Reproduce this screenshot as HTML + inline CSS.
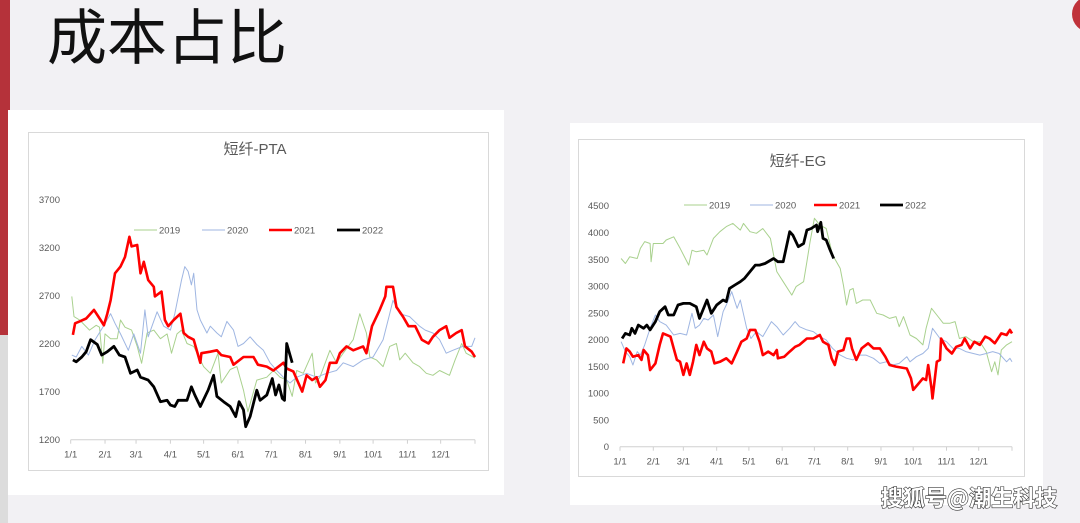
<!DOCTYPE html>
<html><head><meta charset="utf-8"><style>
html,body{margin:0;padding:0;background:#f2f1f4;}
svg{display:block;font-family:"Liberation Sans","Noto Sans CJK SC",sans-serif;}
</style></head><body>
<svg id="root" width="1080" height="523" viewBox="0 0 1080 523" xmlns="http://www.w3.org/2000/svg">
<rect x="0" y="0" width="1080" height="523" fill="#f2f1f4"/>
<rect x="0" y="0" width="10" height="335" fill="#b5323a"/>
<rect x="0" y="335" width="8" height="188" fill="#dcdcdc"/>
<circle cx="1090" cy="14" r="18" fill="#c0323a"/>
<text x="47" y="59" font-size="60" fill="#111" font-family="'Noto Sans CJK SC',sans-serif">成本占比</text>

<rect x="8" y="110" width="496" height="385" fill="#fff"/>
<rect x="28.5" y="132.5" width="460" height="338" fill="none" stroke="#d9d9d9"/>
<rect x="570" y="123" width="473" height="382" fill="#fff"/>
<rect x="578.5" y="139.5" width="446" height="337" fill="none" stroke="#d9d9d9"/>

<g id="pta"></g>
<g id="eg"></g>

<text x="969" y="506" text-anchor="middle" font-size="22" font-weight="bold" fill="#fff" stroke="#333" stroke-width="1.2" paint-order="stroke" font-family="'Noto Sans CJK SC',sans-serif">搜狐号@潮生科技</text>
</svg>
<script>
const monthLabels = ["1/1","2/1","3/1","4/1","5/1","6/1","7/1","8/1","9/1","10/1","11/1","12/1"];
const monthDays = [0,31,59,90,120,151,181,212,243,273,304,334];
const seriesNames = ["2019","2020","2021","2022"];
const ptaTicks = [1200,1700,2200,2700,3200,3700];
const egTicks = [0,500,1000,1500,2000,2500,3000,3500,4000,4500];

const pta2019 = [[1,2690],[3,2480],[8,2445],[17,2340],[23,2390],[26,2370],[29,1995],[31,2300],[36,2250],[42,2250],[45,2445],[49,2370],[55,2340],[60,2170],[64,1995],[69,2310],[75,2340],[81,2250],[87,2300],[91,2100],[96,2300],[100,2340],[105,2200],[111,2170],[120,1960],[126,1890],[133,2100],[136,1790],[144,1930],[150,1960],[156,1715],[160,1490],[168,1820],[177,1850],[183,1920],[189,1850],[195,1820],[200,1650],[204,1920],[210,1890],[218,2100],[221,1790],[225,1850],[234,2130],[240,2000],[246,2100],[255,2240],[261,2510],[267,2310],[270,2060],[276,2030],[282,1960],[288,2170],[294,2200],[297,2030],[302,2100],[309,2000],[315,1960],[321,1890],[327,1870],[333,1920],[342,1870],[347,2030],[353,2200],[357,2100],[365,2050]];
const pta2020 = [[1,2080],[5,2060],[10,2170],[16,2080],[22,2240],[29,2370],[36,2510],[40,2410],[45,2300],[52,2130],[57,2300],[63,2100],[67,2550],[70,2270],[78,2530],[84,2380],[90,2340],[94,2510],[100,2860],[103,3000],[106,2950],[109,2810],[111,2930],[114,2550],[117,2445],[123,2310],[126,2380],[132,2310],[136,2270],[141,2430],[147,2340],[151,2170],[156,2200],[162,2270],[168,2190],[174,2130],[180,2000],[186,1920],[192,1850],[198,1790],[204,1850],[213,1890],[222,1850],[231,1890],[240,1920],[246,2000],[255,1960],[264,2030],[273,2060],[282,2240],[288,2510],[291,2650],[297,2510],[306,2480],[315,2380],[320,2340],[327,2310],[333,2240],[339,2100],[345,2130],[354,2170],[362,2170],[365,2260]];
const pta2021 = [[2,2290],[4,2410],[8,2430],[14,2460],[21,2550],[27,2445],[30,2390],[33,2510],[36,2650],[40,2930],[45,3000],[49,3100],[53,3310],[55,3210],[60,3225],[63,2930],[66,3050],[70,2860],[75,2790],[76,2690],[82,2740],[85,2445],[88,2380],[93,2445],[99,2510],[102,2310],[106,2270],[111,2240],[117,2000],[118,2100],[126,2115],[132,2130],[136,2080],[144,2060],[147,1980],[156,2060],[165,2060],[169,1980],[177,1960],[183,1920],[192,2000],[195,1940],[201,1910],[209,1700],[213,1870],[218,1820],[222,1850],[225,1750],[230,1820],[234,2000],[240,2000],[243,2100],[249,2170],[255,2130],[264,2170],[267,2100],[272,2380],[279,2550],[284,2690],[285,2790],[291,2790],[294,2580],[300,2480],[305,2380],[311,2380],[317,2240],[323,2200],[327,2270],[333,2340],[339,2380],[342,2260],[348,2310],[353,2340],[356,2170],[362,2115],[365,2060]];
const pta2022 = [[2,2030],[5,2010],[10,2060],[14,2115],[18,2240],[24,2190],[28,2080],[33,2115],[39,2170],[44,2080],[49,2060],[54,1890],[60,1925],[63,1850],[70,1820],[75,1750],[81,1595],[87,1610],[90,1560],[94,1545],[97,1610],[105,1610],[109,1750],[112,1665],[117,1545],[124,1715],[129,1870],[132,1650],[138,1595],[144,1545],[149,1440],[152,1595],[156,1510],[158,1335],[162,1440],[168,1715],[171,1610],[177,1665],[182,1835],[185,1665],[188,1770],[191,1630],[193,1610],[195,2200],[200,2000]];

const eg2019 = [[1,3515],[5,3420],[9,3545],[16,3515],[19,3705],[23,3830],[28,3795],[29,3455],[31,3795],[40,3795],[43,3860],[50,3920],[56,3705],[64,3390],[67,3670],[71,3640],[78,3670],[81,3580],[87,3890],[93,4015],[99,4110],[105,4170],[112,4045],[115,4170],[121,4015],[127,3985],[133,4075],[140,3890],[146,3270],[152,3080],[160,2830],[164,2990],[171,3080],[174,3455],[177,3830],[181,4265],[186,4140],[192,4075],[198,3580],[205,3330],[208,3020],[211,2645],[214,2925],[217,2955],[220,2675],[226,2740],[233,2740],[239,2490],[245,2460],[251,2395],[257,2430],[260,2240],[264,2430],[270,2085],[276,2020],[282,1900],[285,2210],[290,2585],[295,2460],[301,2305],[307,2305],[312,2335],[316,2020],[322,2055],[329,1960],[335,1960],[341,1775],[346,1400],[349,1585],[352,1340],[355,1805],[360,1900],[365,1960]];
const eg2020 = [[1,1960],[5,1775],[9,1680],[12,1525],[16,1775],[19,1710],[23,1900],[28,2210],[33,2460],[37,2335],[43,2270],[50,2085],[56,2115],[62,2085],[67,2490],[70,2210],[74,2270],[78,2395],[82,2365],[87,2460],[91,2055],[96,2520],[99,2645],[104,2895],[109,2585],[112,2740],[118,2210],[122,2020],[127,2150],[133,2055],[141,2335],[146,2240],[152,2085],[158,2210],[163,2335],[167,2240],[174,2180],[180,2150],[186,2055],[192,1995],[198,1835],[205,1710],[211,1650],[217,1620],[223,1710],[229,1710],[236,1650],[242,1555],[248,1585],[254,1525],[260,1555],[267,1680],[270,1585],[276,1680],[282,1740],[287,1835],[291,2210],[298,2020],[304,1960],[310,1835],[316,1835],[322,1775],[329,1740],[335,1710],[341,1740],[347,1775],[353,1740],[360,1585],[363,1650],[365,1585]];
const eg2021 = [[3,1555],[6,1835],[9,1775],[12,1680],[17,1710],[20,1620],[22,1805],[26,1710],[28,1430],[33,1555],[37,1900],[40,2115],[47,2055],[50,1835],[53,1620],[56,1585],[59,1340],[62,1555],[65,1340],[68,1585],[71,1900],[74,1710],[78,1960],[81,1835],[85,1775],[88,1555],[93,1585],[99,1650],[104,1555],[109,1775],[113,1960],[118,2020],[121,2180],[126,2180],[130,1960],[133,1710],[138,1775],[143,1710],[146,1805],[147,1650],[153,1680],[158,1775],[163,1865],[167,1900],[174,2020],[180,2020],[186,2085],[189,1960],[194,1900],[197,1650],[200,1525],[203,1775],[208,1805],[211,2020],[214,2020],[216,1835],[220,1620],[225,1835],[231,1930],[236,1835],[242,1835],[247,1680],[251,1525],[257,1495],[267,1460],[271,1275],[273,1060],[278,1180],[282,1275],[285,1245],[287,1525],[290,1090],[291,900],[295,1585],[298,1620],[299,2020],[304,1835],[309,1740],[313,1865],[318,1900],[321,2020],[326,1835],[330,1960],[335,1900],[340,2055],[344,2020],[349,1930],[355,2115],[360,2085],[363,2180],[365,2115]];
const eg2022 = [[2,2020],[5,2115],[9,2085],[11,2210],[14,2115],[17,2270],[22,2210],[25,2270],[28,2180],[33,2335],[37,2520],[42,2615],[45,2460],[50,2460],[54,2645],[59,2675],[65,2675],[71,2615],[74,2395],[81,2740],[85,2490],[90,2645],[96,2740],[99,2710],[102,2955],[107,3020],[112,3080],[116,3145],[121,3270],[126,3390],[130,3390],[135,3420],[143,3515],[147,3455],[152,3455],[158,4015],[161,3950],[166,3735],[171,3795],[174,4045],[178,4075],[183,4140],[184,4015],[187,4190],[189,3890],[192,3860],[195,3705],[199,3515]];

const colors = ["#a9d18e","#9fb6e2","#ff0000","#000000"];
const widths = [1,1,2.6,2.8];
const NS = "http://www.w3.org/2000/svg";
function mk(tag, attrs, parent){const e=document.createElementNS(NS,tag);for(const k in attrs)e.setAttribute(k,attrs[k]);parent.appendChild(e);return e;}

function drawChart(g, cfg){
  const xS = d => cfg.x0 + d/365*(cfg.x1-cfg.x0);
  const yS = v => cfg.yb - (v-cfg.vmin)/(cfg.vmax-cfg.vmin)*(cfg.yb-cfg.yt);
  const t = mk("text",{x:cfg.tx,y:cfg.ty,"text-anchor":"middle","font-size":15,fill:"#595959"},g);
  
  
  t.textContent = cfg.title;
  cfg.ticks.forEach(v=>{
    const l = mk("text",{x:cfg.lx,y:yS(v)+3.5,"text-anchor":"end","font-size":9.5,fill:"#595959"},g);
    
    
    l.textContent = v;
  });
  const ax = mk("line",{x1:cfg.x0,x2:cfg.x1,y1:cfg.yb,y2:cfg.yb,stroke:"#d0d0d0","stroke-width":1},g);
  
  
  monthDays.concat([365]).forEach(d=>{
    const tk = mk("line",{x1:xS(d),x2:xS(d),y1:cfg.yb,y2:cfg.yb+4,stroke:"#d0d0d0"},g);
    
    
  });
  monthLabels.forEach((m,i)=>{
    const l = mk("text",{x:xS(monthDays[i]),y:cfg.yb+18,"text-anchor":"middle","font-size":9.5,fill:"#595959"},g);
    
    
    l.textContent = m;
  });
  cfg.series.forEach((s,i)=>{
    const p = mk("polyline",{points:s.map(q=>xS(q[0]).toFixed(1)+","+yS(q[1]).toFixed(1)).join(" "),fill:"none",stroke:colors[i],"stroke-width":widths[i],"stroke-linejoin":"round"},g);
    
    
  });
  seriesNames.forEach((n,i)=>{
    const lx = cfg.legX[i];
    const ll = mk("line",{x1:lx,x2:lx+23,y1:cfg.legY,y2:cfg.legY,stroke:colors[i],"stroke-width":widths[i]},g);
    
    
    const lt = mk("text",{x:lx+25,y:cfg.legY+3.5,"font-size":9.5,fill:"#595959"},g);
    
    
    lt.textContent = n;
  });
}
drawChart(document.getElementById("pta"),{title:"短纤-PTA",tx:255,ty:154,x0:70.7,x1:475,yt:199.3,yb:439.7,vmin:1200,vmax:3700,ticks:ptaTicks,lx:60,legY:230,legX:[134,202,269,337],series:[pta2019,pta2020,pta2021,pta2022]});
drawChart(document.getElementById("eg"),{title:"短纤-EG",tx:798,ty:166,x0:620,x1:1012,yt:205.7,yb:446.7,vmin:0,vmax:4500,ticks:egTicks,lx:609,legY:205,legX:[684,750,814,880],series:[eg2019,eg2020,eg2021,eg2022]});
</script>
</body></html>
